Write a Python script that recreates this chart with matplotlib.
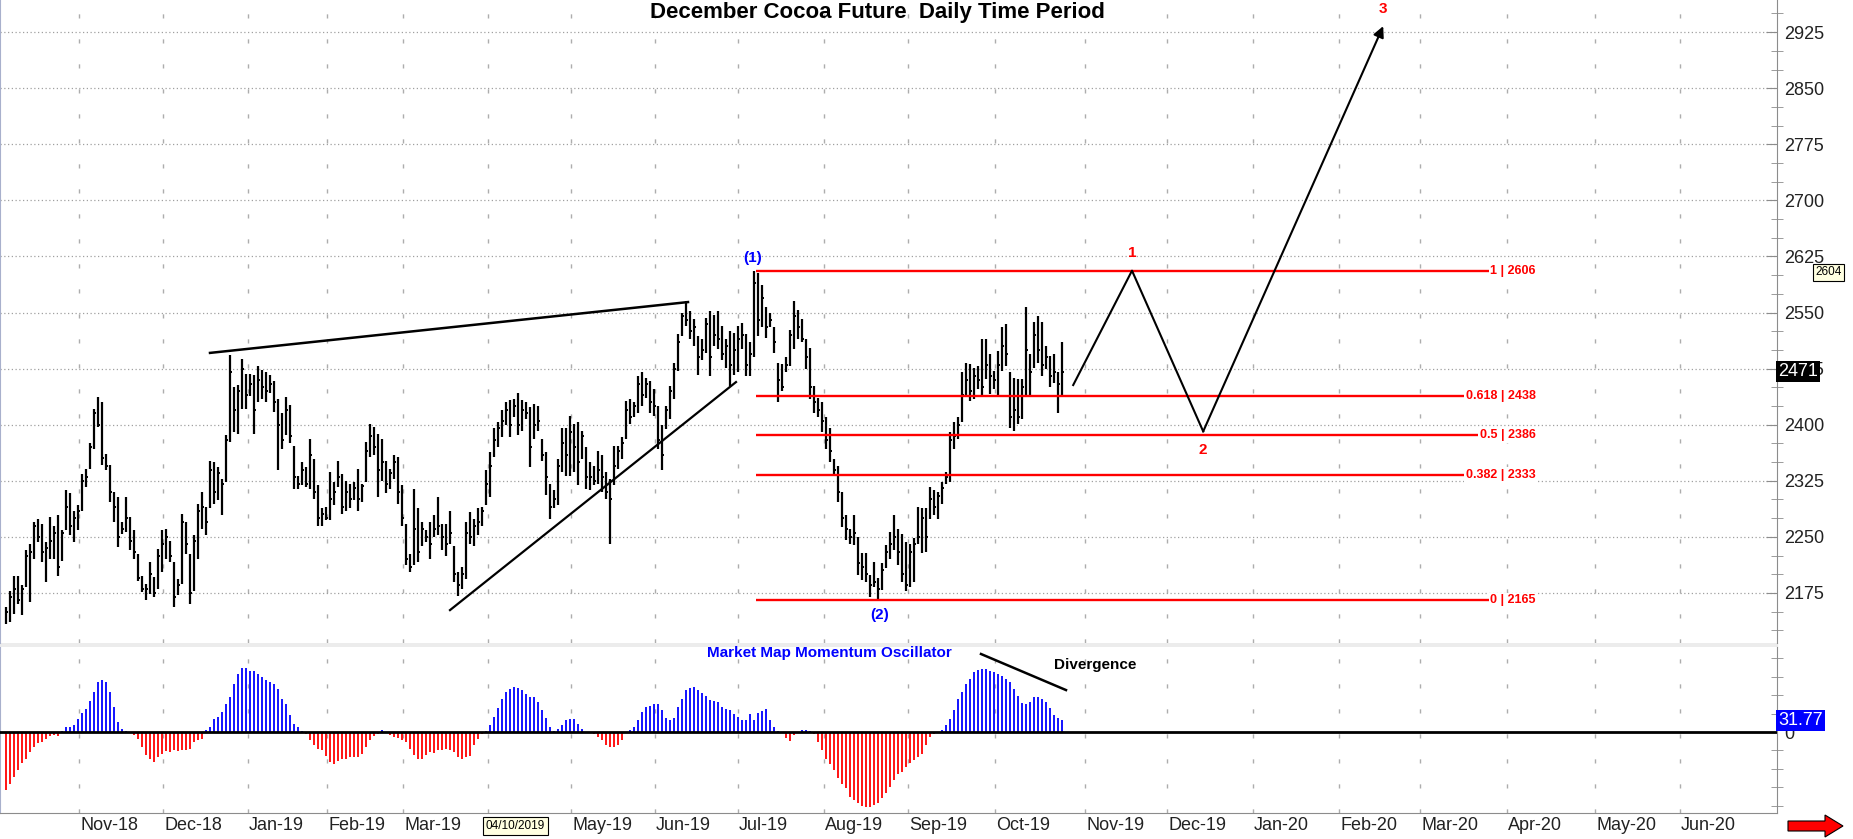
import matplotlib
matplotlib.use('Agg')
import matplotlib.pyplot as plt
import matplotlib.patches as mpatches
import matplotlib.transforms as mtransforms
from matplotlib.ticker import MultipleLocator

plt.rcParams['font.family'] = ['Liberation Sans', 'DejaVu Sans']
NARROW = ['Liberation Sans Narrow', 'Liberation Sans', 'DejaVu Sans']

# daily bars, Oct 2018 - Oct 2019 (one entry per trading day)
high = [2156, 2178, 2198, 2198, 2185, 2232, 2241, 2270, 2274, 2267,
        2243, 2276, 2265, 2279, 2259, 2312, 2308, 2285, 2292, 2334,
        2341, 2375, 2421, 2437, 2430, 2361, 2346, 2310, 2303, 2270,
        2303, 2276, 2259, 2227, 2198, 2187, 2216, 2196, 2234, 2259,
        2261, 2245, 2216, 2193, 2281, 2270, 2227, 2252, 2294, 2310,
        2290, 2352, 2350, 2343, 2328, 2386, 2493, 2450, 2453, 2488,
        2468, 2468, 2466, 2479, 2473, 2471, 2466, 2459, 2435, 2415,
        2437, 2426, 2372, 2332, 2350, 2343, 2381, 2354, 2319, 2288,
        2290, 2337, 2323, 2352, 2334, 2325, 2321, 2323, 2341, 2321,
        2377, 2401, 2397, 2388, 2381, 2352, 2341, 2359, 2357, 2319,
        2267, 2227, 2314, 2288, 2270, 2259, 2270, 2279, 2303, 2267,
        2267, 2285, 2238, 2203, 2209, 2270, 2283, 2274, 2288, 2290,
        2339, 2363, 2395, 2404, 2419, 2430, 2433, 2435, 2442, 2433,
        2430, 2424, 2427, 2425, 2381, 2363, 2321, 2312, 2354, 2396,
        2396, 2412, 2401, 2403, 2392, 2370, 2350, 2345, 2365, 2359,
        2337, 2328, 2372, 2372, 2383, 2432, 2434, 2430, 2465, 2470,
        2463, 2459, 2448, 2425, 2399, 2425, 2452, 2483, 2521, 2550,
        2565, 2552, 2541, 2519, 2514, 2543, 2552, 2547, 2552, 2532,
        2514, 2525, 2523, 2532, 2536, 2521, 2510, 2605, 2603, 2587,
        2558, 2550, 2530, 2483, 2481, 2490, 2527, 2565, 2554, 2541,
        2514, 2503, 2452, 2436, 2430, 2410, 2396, 2354, 2345, 2310,
        2279, 2261, 2279, 2250, 2228, 2228, 2199, 2217, 2195, 2215,
        2239, 2257, 2279, 2261, 2254, 2243, 2241, 2248, 2290, 2288,
        2288, 2317, 2312, 2310, 2323, 2337, 2390, 2403, 2410, 2470,
        2483, 2481, 2476, 2479, 2514, 2514, 2494, 2472, 2499, 2530,
        2534, 2470, 2463, 2461, 2461, 2558, 2494, 2538, 2545, 2538,
        2505, 2492, 2494, 2470, 2510]
low = [2134, 2136, 2147, 2160, 2145, 2183, 2163, 2221, 2243, 2216,
       2189, 2221, 2221, 2198, 2218, 2259, 2252, 2243, 2259, 2285,
       2317, 2341, 2368, 2397, 2346, 2339, 2296, 2270, 2236, 2254,
       2256, 2232, 2221, 2191, 2176, 2165, 2174, 2169, 2180, 2203,
       2221, 2216, 2156, 2172, 2187, 2227, 2160, 2178, 2221, 2261,
       2252, 2288, 2294, 2299, 2279, 2323, 2377, 2390, 2388, 2421,
       2421, 2439, 2388, 2430, 2435, 2430, 2442, 2417, 2339, 2368,
       2386, 2375, 2314, 2314, 2319, 2317, 2314, 2301, 2265, 2265,
       2272, 2272, 2292, 2317, 2281, 2285, 2288, 2299, 2285, 2296,
       2323, 2357, 2359, 2303, 2325, 2308, 2314, 2328, 2294, 2265,
       2212, 2203, 2212, 2216, 2238, 2243, 2221, 2250, 2252, 2232,
       2225, 2241, 2189, 2171, 2180, 2194, 2241, 2238, 2252, 2265,
       2292, 2303, 2357, 2370, 2384, 2399, 2384, 2410, 2386, 2392,
       2408, 2343, 2381, 2392, 2352, 2306, 2274, 2288, 2292, 2337,
       2332, 2332, 2337, 2319, 2354, 2314, 2312, 2319, 2321, 2310,
       2301, 2240, 2319, 2341, 2354, 2381, 2401, 2410, 2416, 2425,
       2436, 2416, 2412, 2368, 2339, 2394, 2408, 2434, 2472, 2519,
       2532, 2514, 2505, 2467, 2487, 2496, 2465, 2505, 2501, 2487,
       2476, 2452, 2467, 2470, 2501, 2465, 2465, 2490, 2519, 2530,
       2516, 2530, 2496, 2430, 2445, 2470, 2479, 2501, 2514, 2510,
       2474, 2434, 2416, 2410, 2390, 2368, 2350, 2332, 2297, 2263,
       2246, 2241, 2239, 2199, 2192, 2190, 2170, 2183, 2165, 2179,
       2208, 2221, 2232, 2212, 2190, 2177, 2183, 2190, 2241, 2228,
       2230, 2274, 2279, 2274, 2294, 2321, 2323, 2368, 2381, 2403,
       2439, 2432, 2434, 2448, 2439, 2461, 2441, 2448, 2439, 2472,
       2479, 2396, 2392, 2401, 2408, 2439, 2439, 2476, 2483, 2465,
       2474, 2450, 2456, 2416, 2439]
close = [2150, 2170, 2180, 2165, 2180, 2225, 2230, 2265, 2250, 2230,
         2235, 2245, 2255, 2210, 2255, 2290, 2265, 2275, 2285, 2325,
         2330, 2370, 2415, 2400, 2355, 2345, 2310, 2290, 2250, 2260,
         2275, 2245, 2230, 2195, 2180, 2180, 2200, 2175, 2225, 2240,
         2250, 2225, 2170, 2185, 2270, 2240, 2175, 2245, 2285, 2290,
         2270, 2340, 2310, 2335, 2320, 2380, 2470, 2420, 2445, 2475,
         2440, 2455, 2420, 2460, 2450, 2445, 2455, 2430, 2400, 2380,
         2420, 2385, 2330, 2320, 2340, 2320, 2360, 2310, 2275, 2280,
         2275, 2300, 2310, 2330, 2290, 2310, 2300, 2315, 2300, 2318,
         2365, 2385, 2370, 2340, 2350, 2320, 2335, 2350, 2310, 2275,
         2220, 2210, 2260, 2230, 2260, 2250, 2240, 2260, 2265, 2250,
         2240, 2255, 2200, 2185, 2200, 2255, 2250, 2265, 2270, 2285,
         2320, 2345, 2380, 2395, 2405, 2420, 2400, 2425, 2400, 2420,
         2415, 2370, 2400, 2405, 2360, 2330, 2290, 2300, 2345, 2375,
         2360, 2390, 2370, 2350, 2385, 2330, 2330, 2325, 2340, 2330,
         2310, 2300, 2345, 2365, 2375, 2420, 2410, 2425, 2455, 2440,
         2455, 2430, 2425, 2380, 2360, 2420, 2445, 2475, 2510, 2545,
         2540, 2525, 2530, 2490, 2500, 2535, 2490, 2520, 2515, 2495,
         2505, 2480, 2500, 2515, 2520, 2480, 2495, 2590, 2540, 2570,
         2530, 2540, 2510, 2460, 2450, 2480, 2520, 2545, 2530, 2515,
         2490, 2450, 2430, 2420, 2405, 2380, 2365, 2340, 2310, 2275,
         2260, 2250, 2255, 2215, 2210, 2200, 2185, 2190, 2180, 2205,
         2230, 2240, 2250, 2230, 2200, 2185, 2230, 2240, 2250, 2275,
         2250, 2300, 2290, 2305, 2315, 2330, 2380, 2385, 2400, 2440,
         2460, 2445, 2465, 2460, 2450, 2480, 2465, 2460, 2480, 2505,
         2495, 2410, 2420, 2410, 2450, 2500, 2470, 2520, 2500, 2480,
         2490, 2465, 2470, 2455, 2471]

# Market Map Momentum Oscillator, one value per bar
osc = [-158, -140, -122, -104, -84, -72, -54, -40, -31, -27, -18, -12, -8, -10,
       4,
       15, 14, 18, 36, 51, 63, 84, 108, 135, 140, 135, 108, 68, 27, 9, 4,
       -3,
       -9, -18, -42, -63, -72, -81, -68, -59, -51, -54, -50, -51, -50, -50, -45, -27, -23, -18,
       5,
       14, 36, 42, 54, 77, 96, 131, 158, 174, 174, 167, 167, 158, 149, 142, 135, 131, 117, 90,
       77, 45, 23, 14,
       3, -5,
       -23, -36, -45, -50, -66, -81, -86, -78, -72, -72, -68, -68, -68, -59, -41, -23, -12, -6,
       5, -3,
       -9, -14, -15, -23, -27, -45, -63, -72, -72, -63, -54, -56, -50, -50, -45, -48, -54, -69,
       -72, -69, -66, -36, -18, -5,
       3,
       18, 40, 66, 90, 108, 117, 122, 120, 114, 104, 96, 96, 81, 59, 39, 15,
       2, 8, 18, 32, 36, 36, 23, 9, -3,
       -3, -6,
       -14, -23, -36, -42, -42, -36, -23,
       -4,
       5, 14, 32, 54, 68, 72, 75, 75, 59, 39, 33, 39, 68, 90, 114, 120, 123, 114, 105, 98,
       87, 84, 82, 69, 63, 59, 48, 42, 33, 32, 50, 32, 51, 57, 62, 33, 14,
       4, -2, -15, -24, -9, -2, 6, 6, 2,
       -5, -27, -50, -72, -86, -102, -126, -140, -153, -176, -185, -194, -201, -203, -203,
       -198, -192, -180, -167, -149, -131, -115, -108, -95, -84, -77, -68, -59, -36, -14, -5,
       -2, 6,
       18, 36, 59, 90, 108, 131, 144, 162, 168, 171, 171, 167, 162, 158, 153, 144, 135, 117,
       99, 78, 77, 81, 95, 95, 90, 81, 66, 45, 38, 31.77]

months = ['Nov-18', 'Dec-18', 'Jan-19', 'Feb-19', 'Mar-19', 'Apr-19', 'May-19', 'Jun-19',
          'Jul-19', 'Aug-19', 'Sep-19', 'Oct-19', 'Nov-19', 'Dec-19', 'Jan-20', 'Feb-20',
          'Mar-20', 'Apr-20', 'May-20', 'Jun-20']
month_pos = [18.25, 39.25, 60.5, 80.25, 99.25, 120.5, 141.25, 162.25, 183, 204.5,
             225.5, 247.25, 269.75, 290.25, 311.75, 333.25, 353.5, 375.25, 397.25, 418.5]

fib_ratio = ['1', '0.618', '0.5', '0.382', '0']
fib_price = [2606, 2438, 2386, 2333, 2165]

# projected wave path (1 -> 2 -> 3)
wave_x = [266.8, 281.5, 299.3, 344.3]
wave_y = [2453, 2606, 2391, 2933]
wave_lab = ['1', '2', '3']
wave_lab_y = [2630, 2366, 2956]

upper_tl_x = [51, 170.5]
upper_tl_y = [2496, 2564]
lower_tl_x = [111, 182.5]
lower_tl_y = [2152, 2457]

div_x = [243.75, 265]
div_y = [212, 114]

last_price = 2471
marker_price = 2604
last_osc = 31.77

W, H = 1853, 839
fig = plt.figure(figsize=(W / 100, H / 100), dpi=100)
fig.patch.set_facecolor('white')

def fy(y):
    return 1 - y / H

ax1 = fig.add_axes([0, fy(643), 1777 / W, 643 / H])
ax2 = fig.add_axes([0, fy(813), 1777 / W, (813 - 647) / H])
x = list(range(len(high)))

for ax in (ax1, ax2):
    ax.set_xlim(-1.5, 442.75)
    ax.set_xticks([])
    for s in ('top', 'bottom'):
        ax.spines[s].set_visible(False)
    ax.spines['left'].set_color('#a8b0cc')
    ax.spines['right'].set_color('#8c8c8c')
    ax.yaxis.tick_right()
    for p in month_pos:
        ax.axvline(p, color='#adadad', lw=1, ls=(0, (3, 15)), zorder=0)

# separator between panes (behind the axes)
fig.patches.append(mpatches.Rectangle((0, fy(647)), 1777 / W, 4 / H, transform=fig.transFigure,
                                      color='#ececec', zorder=-1))
ax2.spines['bottom'].set_visible(True)
ax2.spines['bottom'].set_color('#8c8c8c')

# ---- price pane ----
ax1.set_ylim(2108, 2968)
ax1.set_yticks(range(2175, 2926, 75))
ax1.yaxis.set_minor_locator(MultipleLocator(25))
ax1.tick_params(axis='y', which='major', direction='in', length=8, color='#8c8c8c',
                labelsize=13, pad=5, labelcolor='#222222')
ax1.tick_params(axis='y', which='minor', direction='inout', length=8, color='#8c8c8c')
for p in range(2175, 2926, 75):
    ax1.axhline(p, color='#a0a0a0', lw=0.9, ls=(0, (1, 2)), zorder=0)

ax1.vlines(x, low, high, color='black', lw=1.6, zorder=3)
ax1.hlines(close, [i for i in x], [i + 0.6 for i in x], color='black', lw=1.4, zorder=3)

ax1.plot(upper_tl_x, upper_tl_y, color='black', lw=1.8, zorder=4)
ax1.plot(lower_tl_x, lower_tl_y, color='black', lw=1.6, zorder=4)

ax1.hlines(fib_price, 187.5, 382.5, color='#ff0000', lw=1.7, zorder=4)
for r, p in zip(fib_ratio, fib_price):
    ax1.text(382.5, p, f'{r} | {p}', color='#ff0000', fontsize=9, va='center', ha='right',
             family=NARROW, weight='bold', zorder=5,
             bbox=dict(boxstyle='square,pad=0.15', fc='white', ec='none'))

ax1.plot(wave_x[:3], wave_y[:3], color='black', lw=1.5, zorder=4)
ax1.annotate('', xy=(wave_x[3], wave_y[3]), xytext=(wave_x[2], wave_y[2]),
             arrowprops=dict(arrowstyle='-|>', color='black', lw=1.5, mutation_scale=16,
                             shrinkA=0, shrinkB=0), zorder=4)
for lx, ly, t in zip(wave_x[1:], wave_lab_y, wave_lab):
    ax1.text(lx, ly, t, color='#ff0000', fontsize=11, weight='bold', ha='center', va='center')

ax1.text(186.75, 2623, '(1)', color='#0000ff', fontsize=11, weight='bold', ha='center', va='center')
ax1.text(218.5, 2145, '(2)', color='#0000ff', fontsize=11, weight='bold', ha='center', va='center')

ax1.text(0.4935, 0.981, 'December Cocoa Future  Daily Time Period', transform=ax1.transAxes,
         ha='center', va='center', fontsize=16, weight='bold')

tr1 = mtransforms.blended_transform_factory(ax1.transAxes, ax1.transData)
ax1.text(1.0006, last_price, str(last_price), transform=tr1, color='white', fontsize=13,
         ha='left', va='center', zorder=6, clip_on=False,
         bbox=dict(boxstyle='square,pad=0.12', fc='black', ec='none'))
ax1.text(1.0215, marker_price, str(marker_price), transform=tr1, color='black', fontsize=8.5,
         ha='left', va='center', zorder=6, clip_on=False,
         bbox=dict(boxstyle='square,pad=0.2', fc='#ffffe1', ec='black', lw=0.8))

# ---- oscillator pane ----
ax2.set_ylim(-220, 231)
ax2.set_yticks([0])
ax2.yaxis.set_minor_locator(MultipleLocator(50))
ax2.tick_params(axis='y', which='major', direction='in', length=8, color='#8c8c8c',
                labelsize=13, pad=5, labelcolor='#222222')
ax2.tick_params(axis='y', which='minor', direction='inout', length=8, color='#8c8c8c')
osc_col = ['#0000ff' if v >= 0 else '#ff0000' for v in osc]
ax2.vlines(x, 0, osc, colors=osc_col, lw=1.3, zorder=3)
ax2.axhline(0, color='black', lw=2, zorder=4)
ax2.plot(div_x, div_y, color='black', lw=1.8, zorder=4)
ax2.text(175.25, 214, 'Market Map Momentum Oscillator', color='#0000ff', fontsize=11,
         weight='bold', ha='left', va='center', family=NARROW)
ax2.text(262, 182, 'Divergence', color='black', fontsize=11, weight='bold', ha='left',
         va='center', family=NARROW)

tr2 = mtransforms.blended_transform_factory(ax2.transAxes, ax2.transData)
ax2.text(1.0006, last_osc, f'{last_osc:.2f}', transform=tr2, color='white', fontsize=13,
         ha='left', va='center', zorder=6, clip_on=False,
         bbox=dict(boxstyle='square,pad=0.12', fc='#0000ff', ec='none'))

# month labels
trx = ax2.get_xaxis_transform()
for m, p in zip(months, month_pos):
    ax2.text(p + 0.3, -0.078, m, transform=trx, ha='left', va='center', fontsize=13,
             color='#222222', clip_on=False)
ax2.text(120.0, -0.078, '04/10/2019', transform=trx, ha='left', va='center', fontsize=8.5,
         family=NARROW, zorder=7, clip_on=False,
         bbox=dict(boxstyle='square,pad=0.25', fc='#ffffe1', ec='black', lw=0.8))

# red scroll arrow, bottom right
fig.patches.append(mpatches.FancyArrow(1788 / W, fy(826), 37 / W, 0, width=10 / H,
                                       head_width=22 / H, head_length=18 / W,
                                       length_includes_head=False, transform=fig.transFigure,
                                       fc='#ff0000', ec='black', lw=0.8))

fig.savefig('out.png', dpi=100)
